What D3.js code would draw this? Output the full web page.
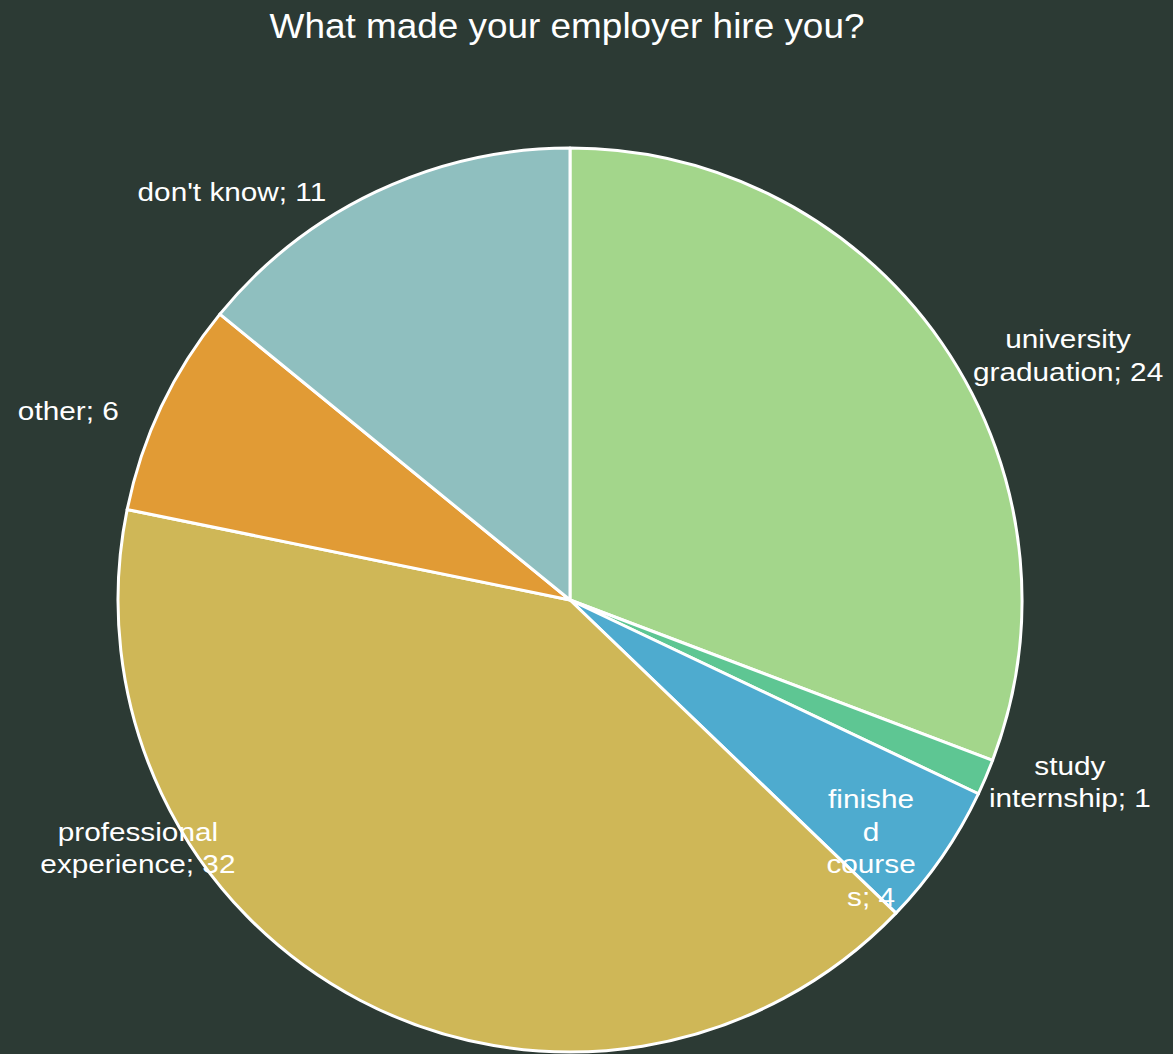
<!DOCTYPE html>
<html>
<head>
<meta charset="utf-8">
<script src="https://cdn.jsdelivr.net/npm/d3@7"></script>
<style>
  html, body { margin: 0; padding: 0; background: #2c3a34; }
  svg { display: block; }
</style>
</head>
<body>
<script>
// Survey answers: "What made your employer hire you?"
const categories = ["university graduation", "study internship", "finished courses", "professional experience", "other", "don't know"];
const counts = [24, 1, 4, 32, 6, 11];
const colors = ["#a3d68b", "#5ec693", "#4eabcf", "#cfb757", "#e19b35", "#8fbfbf"];

// Label text broken into lines, and label anchor offsets from the pie centre (fractions of radius)
const labelLines = [
  ["university", "graduation; 24"],
  ["study", "internship; 1"],
  ["finishe", "d", "course", "s; 4"],
  ["professional", "experience; 32"],
  ["other; 6"],
  ["don't know; 11"]
];
const labelOffsets = [
  [1.102, -0.540],
  [1.106, 0.403],
  [0.666, 0.549],
  [-0.956, 0.549],
  [-1.110, -0.418],
  [-0.748, -0.903]
];

const W = 1173, H = 1054;
const cx = 570, cy = 600, R = 452;
const FONT = "'Liberation Sans', Arial, sans-serif";

const svg = d3.select("body").append("svg").attr("width", W).attr("height", H);
svg.append("rect").attr("width", W).attr("height", H).attr("fill", "#2c3a34");

svg.append("text")
  .attr("transform", "translate(567,38) scale(1.04,1)")
  .attr("text-anchor", "middle")
  .attr("font-family", FONT)
  .attr("font-size", 35.5)
  .attr("fill", "#ffffff")
  .text("What made your employer hire you?");

const data = categories.map((c, i) => ({ name: c, value: counts[i], color: colors[i], lines: labelLines[i], off: labelOffsets[i] }));

const pie = d3.pie().value(d => d.value).sort(null);
const arc = d3.arc().innerRadius(0).outerRadius(R);

const g = svg.append("g").attr("transform", `translate(${cx},${cy})`);

g.selectAll("path.slice")
  .data(pie(data))
  .join("path")
  .attr("class", "slice")
  .attr("d", arc)
  .attr("fill", d => d.data.color)
  .attr("stroke", "#ffffff")
  .attr("stroke-width", 3)
  .attr("stroke-linejoin", "round");

const lineH = 32.5;
const labels = g.selectAll("text.lbl")
  .data(pie(data))
  .join("text")
  .attr("class", "lbl")
  .attr("text-anchor", "middle")
  .attr("font-family", FONT)
  .attr("font-size", 25)
  .attr("fill", "#ffffff")
  .attr("transform", d => `translate(${d.data.off[0] * R},${d.data.off[1] * R}) scale(1.19,1)`);

labels.each(function(d) {
  const n = d.data.lines.length;
  const t = d3.select(this);
  d.data.lines.forEach((ln, i) => {
    t.append("tspan")
      .attr("x", 0)
      .attr("y", (i - (n - 1) / 2) * lineH)
      .attr("dy", "0.35em")
      .text(ln);
  });
});
</script>
</body>
</html>
